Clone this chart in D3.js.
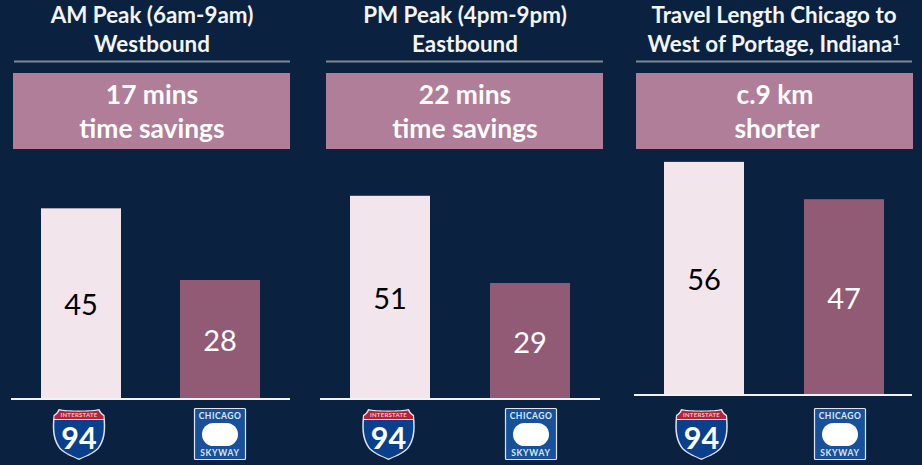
<!DOCTYPE html>
<html><head><meta charset="utf-8">
<script src="https://cdn.jsdelivr.net/npm/d3@7"></script>
<style>html,body{margin:0;padding:0;background:#0a2240}svg{display:block}text{font-family:Lato,"Open Sans",sans-serif}</style>
</head><body><div id="c"></div>
<script>
const titles = [["AM Peak (6am-9am)","Westbound"],["PM Peak (4pm-9pm)","Eastbound"],["Travel Length Chicago to","West of Portage, Indiana"]];
const callouts = [["17 mins","time savings"],["22 mins","time savings"],["c.9 km","shorter"]];
const categories = ["Interstate 94","Chicago Skyway"];
const interstateValues = [45,51,56];
const skywayValues = [28,29,47];
const W=922,H=465;
const panels=[
 {ruleX:[14,290],boxX:[13,290],axisX:[11,290],x0:41,x1:180,base:398,unit:4.215,titleC:152,boxC:152,i0:79,i1:220,sup:false},
 {ruleX:[326,603],boxX:[326,603],axisX:[320,600],x0:350,x1:490,base:398,unit:3.965,titleC:465,boxC:465,i0:388.5,i1:531,sup:false},
 {ruleX:[636,912],boxX:[636,913],axisX:[634,912],x0:664,x1:804,base:394,unit:4.145,titleC:774,boxC:775,i0:701.5,i1:840,sup:true}
];
const iconTop=408;
const svg=d3.select("#c").append("svg").attr("width",W).attr("height",H);
svg.append("rect").attr("width",W).attr("height",H).attr("fill","#0a2240");

function shield(g,cx,top){
  const s=g.append("g").attr("transform",`translate(${cx-26.5},${top})`);
  s.append("path").attr("d","M1,7 C3,6 5,4 6,1 C15,3 38,3 47,1 C48,4 50,6 52,7 C54,24 52,33 46,41 C40,47 32,49 26.5,52 C21,49 13,47 7,41 C1,33 -1,24 1,7Z").attr("fill","#dfe4ec");
  s.append("path").attr("d","M2,12 H51 C52,25 50,33 45,40 C39,46 32,48 26.5,50.6 C21,48 14,46 8,40 C3,33 1,25 2,12Z").attr("fill","#0a3f8c");
  s.append("path").attr("d","M2,11 L2,8 C4,7 6,5 7,2.5 C16,4 37,4 46,2.5 C47,5 49,7 51,8 L51,11Z").attr("fill","#b72237");
  s.append("text").attr("x",26.5).attr("y",9).attr("text-anchor","middle").attr("font-size",6).attr("font-weight",700).attr("letter-spacing",.25).attr("fill","#e8c8cc").text("INTERSTATE");
  s.append("text").attr("x",26.5).attr("y",40.5).attr("text-anchor","middle").attr("font-size",30.5).attr("font-weight",700).attr("fill","#fff").text("94");
}
function skyway(g,cx,top){
  const s=g.append("g").attr("transform",`translate(${cx-26},${top})`);
  s.append("rect").attr("x",.5).attr("y",.5).attr("width",51).attr("height",51).attr("rx",1).attr("fill","#17519c").attr("stroke","#dfe6f0").attr("stroke-width",1.2);
  s.append("rect").attr("x",8).attr("y",15).attr("width",36).attr("height",23).attr("rx",11.5).attr("fill","#fff");
  s.append("text").attr("x",26).attr("y",11).attr("text-anchor","middle").attr("font-size",8.5).attr("font-weight",700).attr("letter-spacing",.5).attr("fill","#dfe7f2").text("CHICAGO");
  s.append("text").attr("x",26).attr("y",48).attr("text-anchor","middle").attr("font-size",8.5).attr("font-weight",700).attr("letter-spacing",.7).attr("fill","#dfe7f2").text("SKYWAY");
}
panels.forEach((p,i)=>{
  const g=svg.append("g");
  const t=g.append("g").attr("font-size",22.4).attr("font-weight",700).attr("fill","#f2f4f7").attr("text-anchor","middle");
  titles[i].forEach((line,k)=>{
    const el=t.append("text").attr("x",p.titleC).attr("y",[22.5,52][k]).text(line);
    if(p.sup&&k===1) el.append("tspan").attr("font-size",14).attr("dy",-7).text("1");
  });
  g.append("line").attr("x1",p.ruleX[0]).attr("x2",p.ruleX[1]).attr("y1",61.4).attr("y2",61.4).attr("stroke","#7f8692").attr("stroke-width",2);
  g.append("rect").attr("x",p.boxX[0]).attr("y",73).attr("width",p.boxX[1]-p.boxX[0]).attr("height",76).attr("fill","#b07e98");
  const c=g.append("g").attr("font-size",26.4).attr("font-weight",700).attr("fill","#fff").attr("text-anchor","middle");
  callouts[i].forEach((line,k)=>c.append("text").attr("x",p.boxC+(i===2&&k===1?2:0)).attr("y",[104,138][k]).text(line));
  const vals=[interstateValues[i],skywayValues[i]];
  const y=d3.scaleLinear().domain([0,60]).range([p.base,p.base-60*p.unit]);
  const x=d3.scaleOrdinal().domain(categories).range([p.x0,p.x1]);
  const data=categories.map((n,k)=>({n,v:vals[k],k}));
  g.selectAll("rect.bar").data(data).join("rect").attr("class","bar")
    .attr("x",d=>x(d.n)).attr("width",80).attr("y",d=>y(d.v)).attr("height",d=>y(0)-y(d.v))
    .attr("fill",d=>d.k?"#915a75":"#f2e6ec");
  g.selectAll("text.val").data(data).join("text").attr("class","val")
    .attr("x",d=>x(d.n)+40).attr("y",d=>(y(d.v)+y(0))/2+12).attr("text-anchor","middle")
    .attr("font-size",29).attr("fill",d=>d.k?"#fff":"#000").text(d=>d.v);
  g.append("line").attr("x1",p.axisX[0]).attr("x2",p.axisX[1]).attr("y1",p.base+1).attr("y2",p.base+1).attr("stroke","#f2f2f2").attr("stroke-width",2);
  shield(g,p.i0,iconTop);
  skyway(g,p.i1,iconTop);
});
</script></body></html>
